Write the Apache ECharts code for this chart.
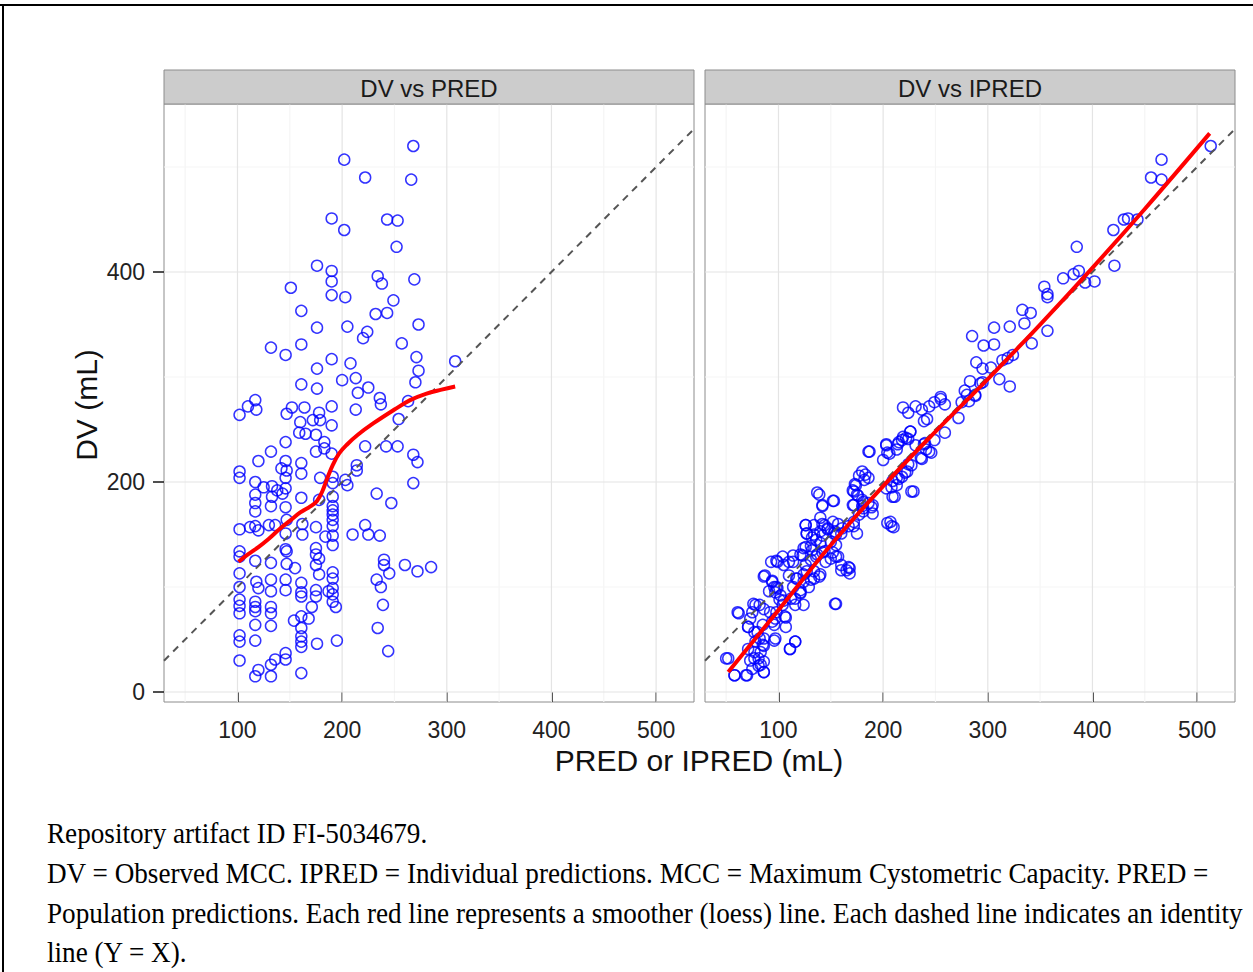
<!DOCTYPE html>
<html>
<head>
<meta charset="utf-8">
<script src="https://cdn.jsdelivr.net/npm/echarts@6/dist/echarts.min.js"></script>
<style>
html,body{margin:0;padding:0;background:#fff;}
#chart{width:1253px;height:972px;}
</style>
</head>
<body>
<div id="chart"></div>
<script>
// ---------- data ----------
const panelTitles = ['DV vs PRED', 'DV vs IPRED'];
const xTicks = [100, 200, 300, 400, 500];
const yTicks = [0, 200, 400];
const xMinorGrid = [50, 150, 250, 350, 450];
const yMinorGrid = [100, 300, 500];
const xTitle = 'PRED or IPRED (mL)';
const yTitle = 'DV (mL)';
const captionLines = [
  'Repository artifact ID FI-5034679.',
  'DV = Observed MCC. IPRED = Individual predictions. MCC = Maximum Cystometric Capacity. PRED =',
  'Population predictions. Each red line represents a smoother (loess) line. Each dashed line indicates an identity',
  'line (Y = X).'
];

// DV vs PRED (x = PRED, y = DV)
const predPoints = [
[268,520],[202,507],[222,490],[266,488],[190,451],[243,450],[253,449],[202,440],[252,424],[176,406],
[190,401],[190,391],[234,396],[238,389],[269,393],[151,385],[190,378],[203,376],[249,373],[161,363],
[232,360],[243,361],[176,347],[205,348],[224,343],[220,337],[273,350],[257,332],[132,328],[146,321],
[161,331],[190,317],[208,313],[176,308],[271,319],[273,306],[270,295],[308,315],[161,293],[176,289],
[200,297],[213,299],[215,285],[225,290],[236,280],[237,274],[263,277],[117,278],[110,272],
[102,264],[118,269],[147,265],[152,271],[164,271],[160,257],[172,259],[178,266],[179,259],[190,272],
[190,254],[213,269],[159,247],[165,246],[175,245],[183,238],[146,238],[132,229],[175,229],[183,232],
[190,227],[222,234],[120,220],[146,220],[161,218],[142,213],[147,211],[161,208],[102,210],[102,204],
[117,200],[146,204],[179,204],[191,205],[191,199],[203,202],[205,197],[214,216],[214,211],[125,195],
[133,196],[138,192],[146,194],[117,188],[133,186],[143,189],[161,185],[178,183],[191,186],[117,180],
[117,172],[132,177],[146,176],[191,177],[191,173],[191,169],[191,164],[191,158],[102,155],[112,157],
[117,158],[120,154],[130,159],[136,159],[147,164],[162,160],[175,157],[146,151],[162,150],[184,148],
[191,149],[210,150],[225,150],[222,159],[191,140],[102,134],[102,129],[117,125],[132,123],[146,136],
[147,134],[175,137],[175,131],[178,127],[147,122],[155,118],[175,121],[102,113],[178,112],[191,114],
[191,108],[118,105],[132,107],[146,107],[161,104],[102,100],[120,99],[132,96],[146,97],[161,95],
[175,97],[187,96],[191,99],[191,93],[175,91],[102,88],[102,82],[102,75],[117,86],[117,81],
[117,77],[132,81],[132,75],[161,91],[171,81],[191,86],[194,81],[117,64],[132,63],[154,68],
[161,72],[168,70],[161,61],[161,53],[161,48],[161,43],[102,54],[102,48],[117,49],[176,46],
[195,49],[102,30],[146,37],[146,31],[136,31],[132,26],[120,21],[117,15],[132,15],[161,18],
[233,189],[247,180],[268,199],[268,226],[272,219],[253,234],[242,234],[254,260],[236,149],[240,126],
[240,121],[245,113],[233,107],[237,100],[260,121],[272,115],[285,119],[239,83],[234,61],[244,39]
];

// DV vs IPRED (x = IPRED, y = DV)
const ipredPoints = [
[513,520],[466,507],[456,490],[466,488],[420,440],[430,450],[434,451],[443,450],[385,424],[421,406],
[372,394],[382,398],[387,401],[393,390],[402,391],[354,386],[357,379],[357,376],[333,364],[341,361],
[335,351],[306,347],[321,348],[357,344],[342,332],[285,339],[296,330],[306,331],[289,314],[314,316],
[319,318],[324,321],[311,298],[321,291],[295,308],[303,309],[283,296],[293,294],[278,287],[288,283],
[280,283],[255,281],
[295,295],[288,282],[282,277],[275,276],[272,261],[259,247],[255,279],[259,274],[249,276],[244,272],
[237,269],[231,272],[224,266],[219,271],[239,258],[242,260],[249,240],[239,236],[246,228],[236,223],
[241,231],[226,248],[222,242],[218,240],[214,236],[213,231],[203,236],[204,228],[200,221],[186,229],
[224,217],[221,209],[218,205],[213,204],[209,201],[203,194],[209,186],[227,191],[204,161],[208,158],
[180,210],[183,207],[186,204],[173,198],[172,191],[175,188],[180,183],[172,178],[180,177],[186,180],
[190,178],[181,172],[177,169],[172,162],[172,158],[167,158],[160,151],[155,150],[175,151],[137,190],
[142,178],[152,182],[140,166],[144,159],[134,159],[126,159],[127,151],[134,150],[140,153],[147,155],
[154,153],[150,143],[155,140],[140,142],[131,139],[124,137],[121,131],[144,134],[137,131],[131,126],
[126,121],[134,115],[140,112],[124,112],[114,124],[104,129],[99,124],[150,127],[155,129],[160,121],
[165,116],[167,119],[117,108],[114,100],[121,97],[112,89],[116,83],[124,83],[121,94],[127,115],
[131,107],[154,84],[86,110],[94,105],[96,100],[99,99],[91,96],[101,88],[104,83],[98,76],
[106,72],[94,67],[96,64],[78,83],[75,76],[73,70],[62,75],[71,62],[85,64],[80,57],
[86,51],[78,48],[85,45],[83,38],[86,29],[83,26],[96,49],[111,41],[116,48],[52,32],
[73,30],[75,22],[58,16],[70,16],[86,19],[81,32],
[187,229],[203,235],[206,227],[215,238],[219,243],[226,248],[224,241],[231,235],[240,237],[244,229],
[237,222],[227,216],[223,210],[215,203],[213,197],[208,195],[229,191],[211,186],[207,162],[210,157],
[177,206],[182,202],[174,197],[171,192],[176,187],[181,181],[171,178],[181,175],[189,176],[190,170],
[139,188],[142,177],[153,182],[126,159],[127,151],[132,147],[142,160],[147,156],[152,162],[157,160],
[161,156],[153,151],[142,149],[136,145],[126,138],[132,135],[123,130],[136,129],[142,133],[152,133],
[157,129],[145,124],[168,118],[168,113],[160,116],[114,130],[110,124],[105,121],[98,125],[93,124],
[110,111],[118,108],[124,105],[129,100],[134,108],[139,110],[121,95],[116,89],[87,111],[94,106],
[98,100],[97,95],[102,92],[105,87],[76,84],[82,83],[86,79],[92,76],[97,70],[107,71],
[107,62],[61,76],[71,62],[77,57],[82,51],[86,44],[97,51],[111,41],[116,48],[155,84],
[50,32],[58,16],[69,16],[77,32],[81,25],[86,19],[71,41],[77,38]
];

// loess smoother curves
const predLoess = [[101,124],[110,131],[120,138],[130,146],[140,155],[150,163],[160,171],[170,177],[176,182],[181,191],[186,204],[191,216],[197,227],[205,236],[215,245],[230,256],[250,269],[265,278],[280,284],[295,288],[308,291]];
const ipredLoess = [[52,19],[100,78],[150,140],[200,196],[250,248],[300,298],[350,350],[400,404],[450,460],[512,532]];

const X_RANGE = [29.8, 536.2];
const Y_RANGE = [-9.5, 560];

// ---------- layout ----------
const FONT = '"Liberation Sans", Arial, Helvetica, sans-serif';
const SERIF = '"Liberation Serif", "Times New Roman", serif';
const grids = [
  {left: 164, top: 104, width: 530, height: 598},
  {left: 705, top: 104, width: 530, height: 598}
];

const chart = echarts.init(document.getElementById('chart'), null, {renderer: 'svg'});

const series = [];
function gridLines(gi, values, dir, color) {
  values.forEach(v => {
    const data = dir === 'x' ? [[v, Y_RANGE[0]], [v, Y_RANGE[1]]] : [[X_RANGE[0], v], [X_RANGE[1], v]];
    series.push({
      type: 'line', xAxisIndex: gi, yAxisIndex: gi, data: data, symbol: 'none', silent: true,
      lineStyle: {color: color, width: 1.2}, z: 1, animation: false
    });
  });
}
[0, 1].forEach(gi => {
  gridLines(gi, xMinorGrid, 'x', '#F5F5F5');
  gridLines(gi, yMinorGrid, 'y', '#F5F5F5');
  gridLines(gi, xTicks, 'x', '#E4E4E4');
  gridLines(gi, yTicks, 'y', '#E4E4E4');
});

const pointSets = [predPoints, ipredPoints];
const loessSets = [predLoess, ipredLoess];
[0, 1].forEach(gi => {
  series.push({
    type: 'scatter', xAxisIndex: gi, yAxisIndex: gi, data: pointSets[gi],
    symbol: 'circle', symbolSize: 11, z: 3, animation: false,
    itemStyle: {color: 'rgba(0,0,0,0)', borderColor: '#0000FF', borderWidth: 1.5}
  });
  series.push({
    type: 'line', xAxisIndex: gi, yAxisIndex: gi, data: [[X_RANGE[0], X_RANGE[0]], [X_RANGE[1], X_RANGE[1]]],
    symbol: 'none', z: 4, animation: false,
    lineStyle: {color: '#555555', width: 2, type: [7, 6]}
  });
  series.push({
    type: 'line', xAxisIndex: gi, yAxisIndex: gi, data: loessSets[gi], smooth: 0.4,
    symbol: 'none', z: 5, animation: false,
    lineStyle: {color: '#FF0000', width: 4}
  });
});

const xAxes = [0, 1].map(gi => ({
  type: 'value', gridIndex: gi, min: X_RANGE[0], max: X_RANGE[1],
  axisLine: {show: false}, splitLine: {show: false},
  axisTick: {show: true, length: 10, customValues: xTicks, lineStyle: {color: '#222', width: 1.6}},
  axisLabel: {customValues: xTicks, fontSize: 23, color: '#222', fontFamily: FONT, margin: 16}
}));
const yAxes = [0, 1].map(gi => ({
  type: 'value', gridIndex: gi, min: Y_RANGE[0], max: Y_RANGE[1],
  axisLine: {show: false}, splitLine: {show: false},
  axisTick: {show: gi === 0, length: 11, customValues: yTicks, lineStyle: {color: '#222', width: 1.6}},
  axisLabel: {show: gi === 0, customValues: yTicks, fontSize: 23, color: '#222', fontFamily: FONT, margin: 19}
}));

const graphic = [];
// outer frame
graphic.push({type: 'line', shape: {x1: 0, y1: 5, x2: 1253, y2: 5}, style: {stroke: '#000', lineWidth: 2}, z: 100});
graphic.push({type: 'line', shape: {x1: 3, y1: 5, x2: 3, y2: 972}, style: {stroke: '#000', lineWidth: 2}, z: 100});
// facet strips
grids.forEach((g, i) => {
  graphic.push({type: 'rect', shape: {x: g.left, y: 70, width: g.width, height: 34},
    style: {fill: '#CCCCCC', stroke: '#8C8C8C', lineWidth: 1}, z: 50});
  graphic.push({type: 'text', x: g.left + g.width / 2, y: 88, z: 51,
    style: {text: panelTitles[i], font: '24px ' + FONT, fill: '#1a1a1a', textAlign: 'center', textVerticalAlign: 'middle'}});
});
// axis titles
graphic.push({type: 'text', x: 699, y: 760, z: 51,
  style: {text: xTitle, font: '30px ' + FONT, fill: '#111', textAlign: 'center', textVerticalAlign: 'middle'}});
graphic.push({type: 'text', x: 86, y: 405, rotation: Math.PI / 2, z: 51,
  style: {text: yTitle, font: '30px ' + FONT, fill: '#111', textAlign: 'center', textVerticalAlign: 'middle'}});
// caption
const capY = [833, 873, 913, 952];
captionLines.forEach((t, i) => {
  graphic.push({type: 'text', x: 47, y: capY[i], scaleX: 0.937, z: 51,
    style: {text: t, font: '29px ' + SERIF, fill: '#000', textAlign: 'left', textVerticalAlign: 'middle'}});
});

chart.setOption({
  animation: false,
  backgroundColor: '#ffffff',
  grid: grids.map(g => Object.assign({show: true, borderColor: '#8C8C8C', borderWidth: 1, backgroundColor: '#fff'}, g)),
  xAxis: xAxes,
  yAxis: yAxes,
  series: series,
  graphic: graphic
});
</script>
</body>
</html>
